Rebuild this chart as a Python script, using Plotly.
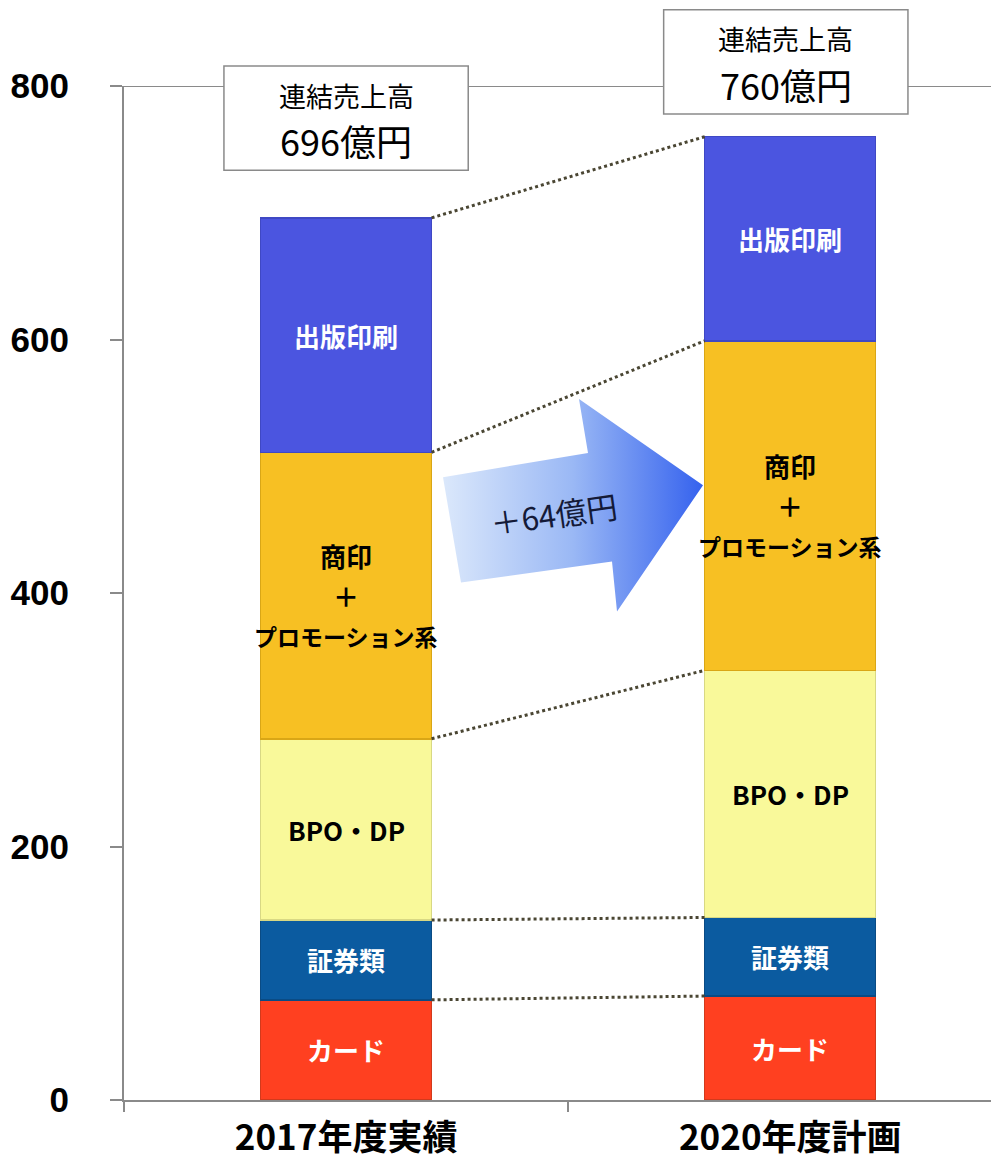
import plotly.graph_objects as go

# ---------------- data ----------------
categories = ["2017年度実績", "2020年度計画"]
card = [79, 82]            # カード
securities = [63, 62]      # 証券類
bpo = [143, 195]           # BPO・DP
commercial = [226, 260]    # 商印＋プロモーション系
publishing = [185, 161]    # 出版印刷
total_labels = ["696億円", "760億円"]
total_title = "連結売上高"
increase_label = "＋64億円"
y_ticks = [0, 200, 400, 600, 800]

segment_names = ["カード", "証券類", "BPO・DP", "商印＋プロモーション系", "出版印刷"]
segment_values = [card, securities, bpo, commercial, publishing]
segment_colors = ["#FF4020", "#0B5BA0", "#F9F99A", "#F7C023", "#4B55E0"]
segment_lines = ["#D23A1C", "#0A4B84", "#D8D884", "#D9A616", "#3F48C4"]
label_colors = ["white", "white", "black", "black", "white"]

BAR_W = 0.385
JP = "Noto Sans CJK JP"

# page pixel geometry of plot area (page has an 8px body margin)
PLOT_TOP, PLOT_BOTTOM = 86, 1097


def py2paper(py):
    return (PLOT_BOTTOM - py) / (PLOT_BOTTOM - PLOT_TOP)


fig = go.Figure()

# stacked bars
for name, vals, col, lc in zip(segment_names, segment_values, segment_colors, segment_lines):
    fig.add_trace(go.Bar(
        x=categories, y=vals, name=name, width=BAR_W,
        marker=dict(color=col, line=dict(color=lc, width=1.5)),
        hoverinfo="skip",
    ))

# cumulative boundaries
cum = []
run = [0, 0]
for vals in segment_values:
    bottoms = run[:]
    run = [run[i] + vals[i] for i in range(2)]
    cum.append((bottoms, run[:]))

# dotted connectors between segment tops
for bottoms, tops in cum:
    fig.add_shape(type="line", xref="x", yref="y",
                  x0=0 + BAR_W / 2, x1=1 - BAR_W / 2, y0=tops[0], y1=tops[1],
                  line=dict(color="#4a4633", width=3, dash="dot"), layer="above")

# segment labels
for k, (bottoms, tops) in enumerate(cum):
    for i in range(2):
        mid = (bottoms[i] + tops[i]) / 2
        if k == 3:
            lines = [("商印", 26, 40), ("＋", 26, 0), ("プロモーション系", 23, -40)]
        else:
            lines = [(segment_names[k], 26, 0)]
        for txt, sz, ys in lines:
            fig.add_annotation(x=i, y=mid, xref="x", yref="y", text=txt, showarrow=False,
                               yshift=ys, yanchor="middle",
                               font=dict(family=JP, size=sz, color=label_colors[k], weight="bold"))

# total boxes (page-pixel layout: center x index, top/bottom pixel)
box_cx = [0.0, 0.99]
box_top = [66, 10]
box_bottom = [170, 114]
BOX_HALF_W = 0.275
for i in range(2):
    fig.add_shape(type="rect", xref="x", yref="paper",
                  x0=box_cx[i] - BOX_HALF_W, x1=box_cx[i] + BOX_HALF_W,
                  y0=py2paper(box_bottom[i]), y1=py2paper(box_top[i]),
                  fillcolor="white", line=dict(color="#8a8a8a", width=1.5), layer="above")
    fig.add_annotation(x=box_cx[i], y=py2paper(box_top[i] + 29), xref="x", yref="paper",
                       text=total_title, showarrow=False, yanchor="middle", xanchor="center",
                       font=dict(family=JP, size=27, color="black"))
    fig.add_annotation(x=box_cx[i], y=py2paper(box_top[i] + 74), xref="x", yref="paper",
                       text=total_labels[i], showarrow=False, yanchor="middle", xanchor="center",
                       font=dict(family=JP, size=36, color="black"))

# decorative arrow on a pixel-space overlay axis
arrow_x = [443, 588, 579, 703, 617, 612, 461, 443]
arrow_y = [476, 452, 398, 484, 610, 560, 581, 476]
fig.add_trace(go.Scatter(
    x=arrow_x, y=arrow_y, xaxis="x2", yaxis="y2", mode="lines",
    fill="toself", line=dict(width=0, color="rgba(0,0,0,0)"),
    fillgradient=dict(type="horizontal",
                      colorscale=[[0, "#dbe8fb"], [0.5, "#9ab8f5"], [1, "#3562ee"]]),
    hoverinfo="skip", showlegend=False,
))
fig.add_annotation(x=553, y=512, xref="x2", yref="y2", text=increase_label,
                   showarrow=False, textangle=-8, yanchor="middle",
                   font=dict(family=JP, size=31, color="#141a38"))

# top line at 800
fig.add_shape(type="line", xref="paper", yref="y", x0=0, x1=1, y0=800, y1=800,
              line=dict(color="#8a8a8a", width=2), layer="below")

fig.update_layout(
    width=991, height=1152,
    margin=dict(l=116, r=0, t=78, b=55),
    barmode="stack", showlegend=False,
    plot_bgcolor="white", paper_bgcolor="white",
    xaxis=dict(type="category", categoryorder="array", categoryarray=categories,
               range=[-0.5, 1.47], tickson="boundaries", ticks="outside", ticklen=10,
               tickcolor="#8a8a8a", tickwidth=2, showline=True, linecolor="#8a8a8a",
               linewidth=2, showgrid=False, zeroline=False, ticklabelstandoff=6,
               tickfont=dict(family=JP, size=35, color="black", weight="bold")),
    yaxis=dict(range=[0, 800], tickvals=y_ticks, ticks="outside", ticklen=12,
               tickcolor="#8a8a8a", tickwidth=2, showline=True, linecolor="#8a8a8a",
               linewidth=2, showgrid=False, zeroline=False, ticklabelstandoff=34,
               tickfont=dict(family="Liberation Sans", size=35, color="black", weight="bold")),
    xaxis2=dict(overlaying="x", range=[124, 999], visible=False, fixedrange=True),
    yaxis2=dict(overlaying="y", range=[1097, 86], visible=False, fixedrange=True),
)

fig.write_html("out.html")
